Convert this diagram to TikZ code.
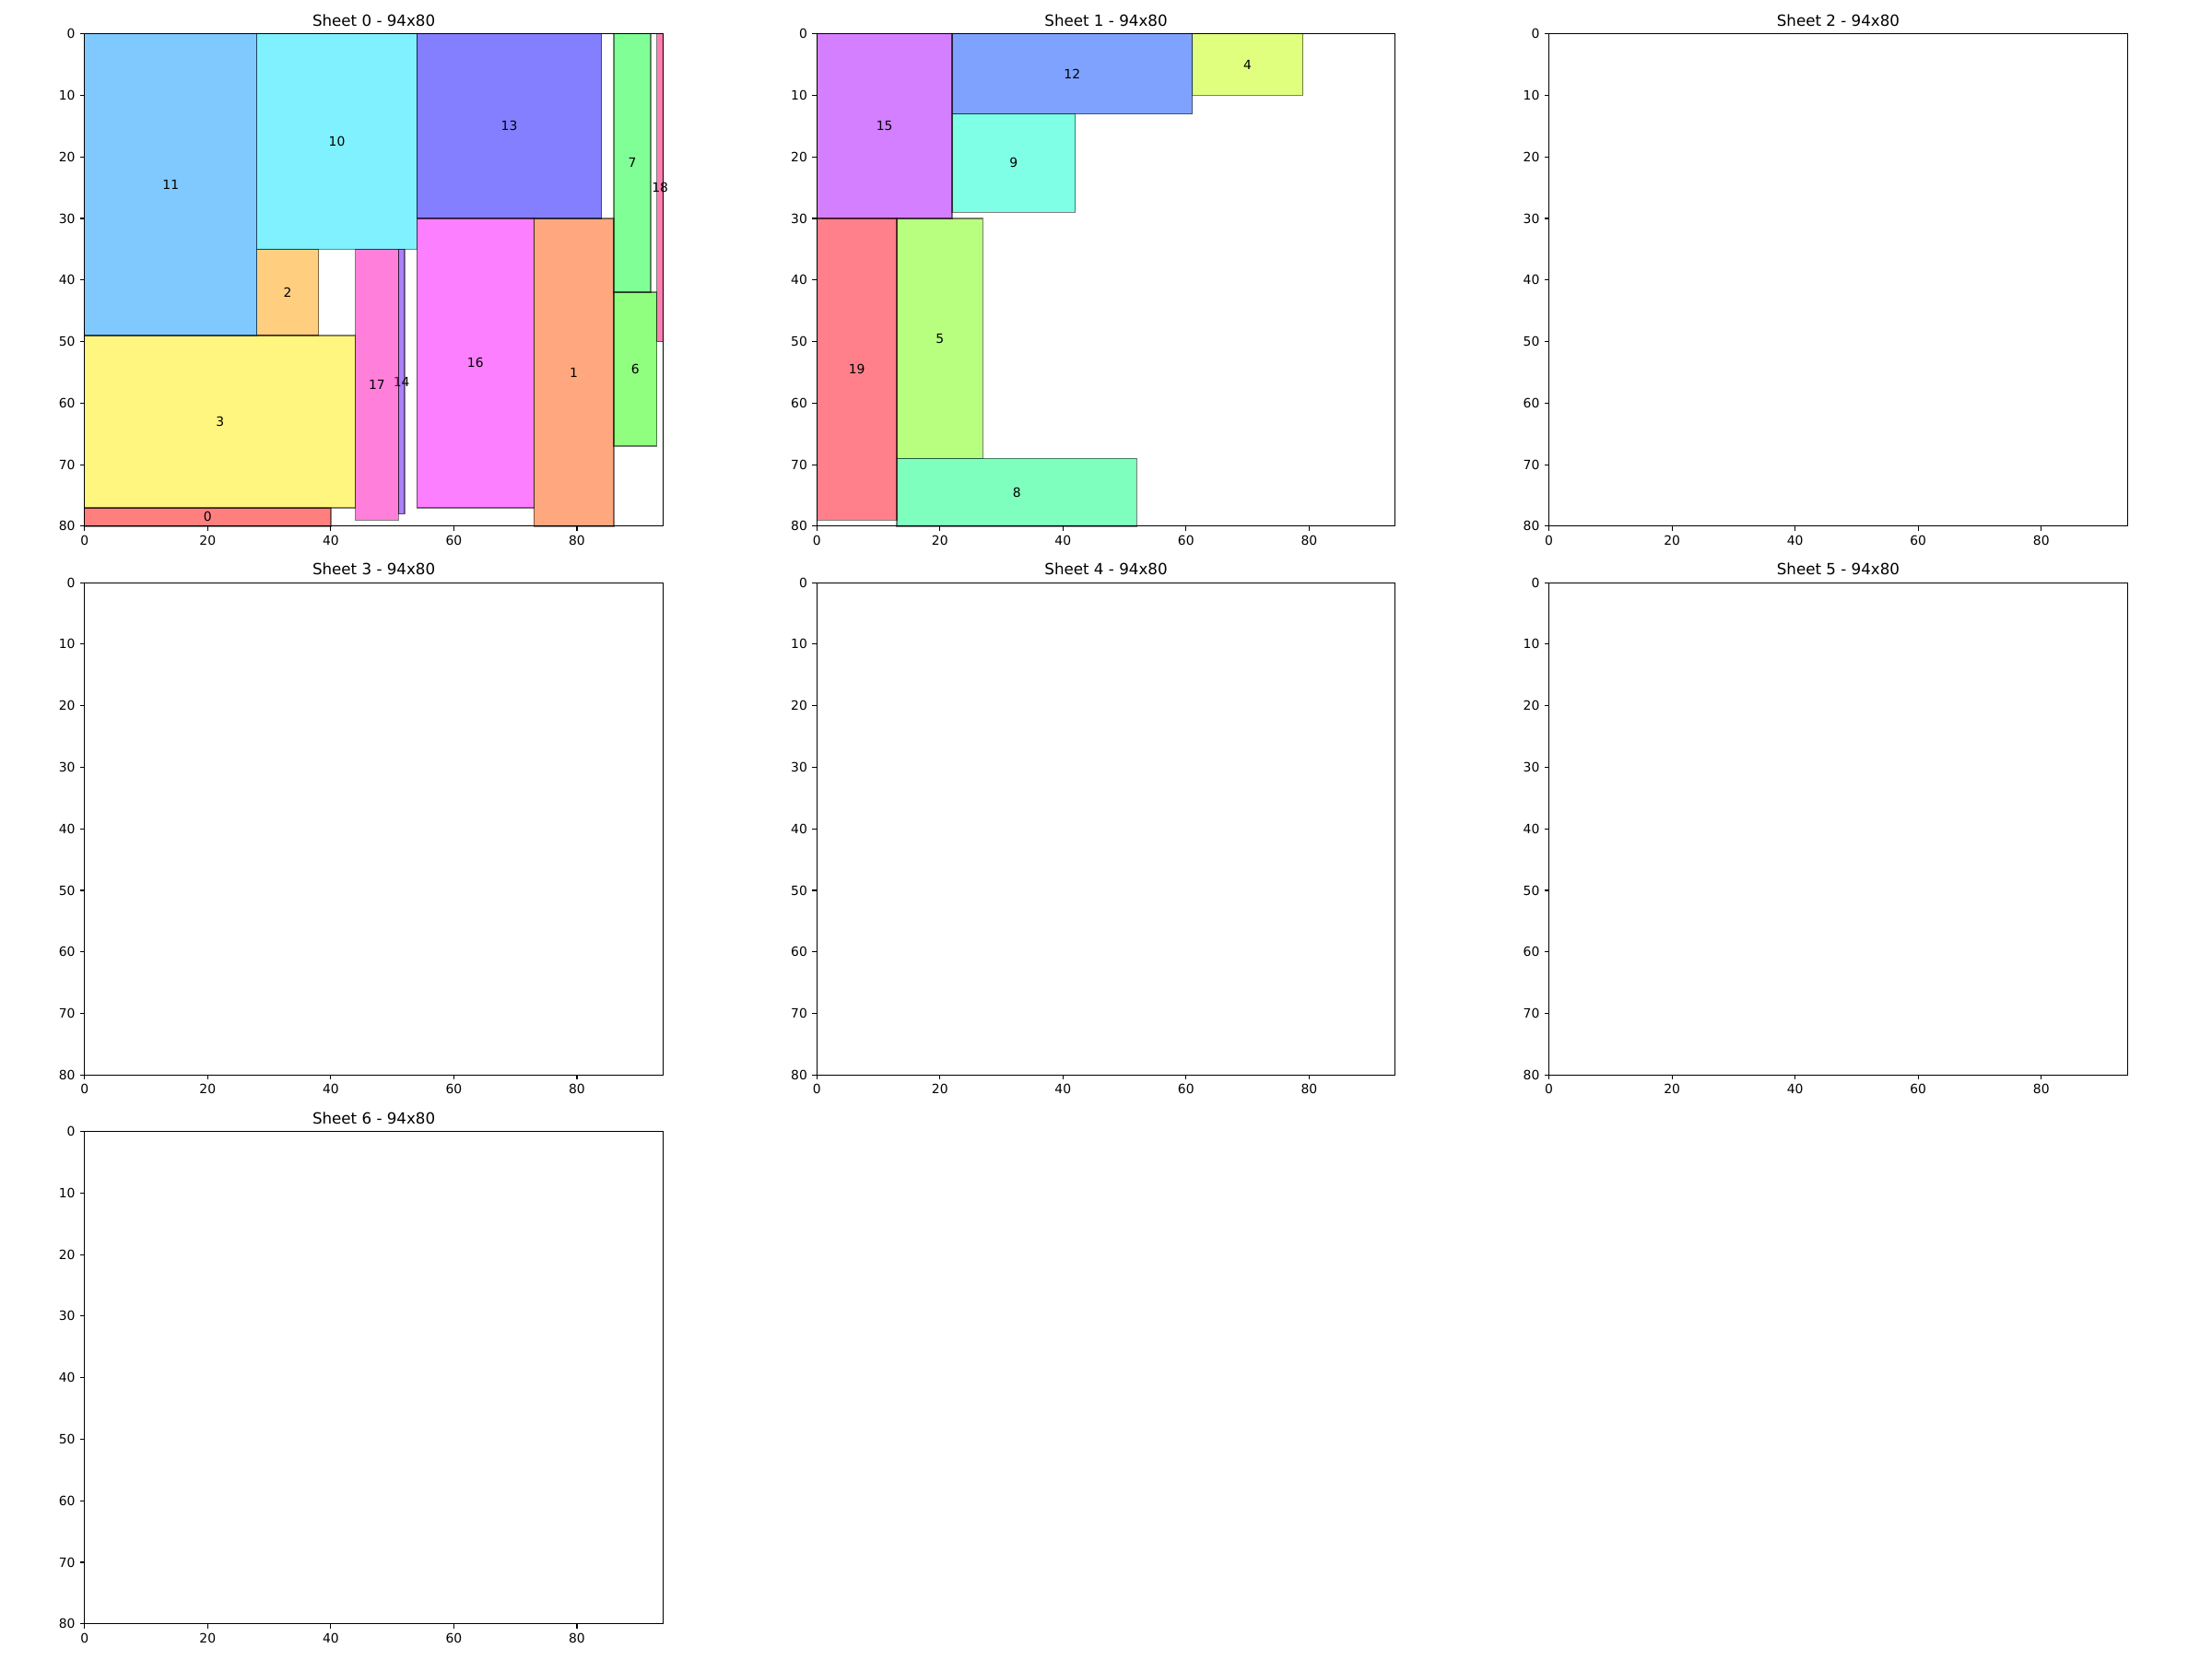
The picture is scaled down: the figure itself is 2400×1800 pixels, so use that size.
\documentclass[tikz,border=0pt]{standalone}
\usepackage{fontspec}
\setmainfont{DejaVu Sans}
\usetikzlibrary{calc}

% piece colours, drawn at half opacity
\definecolor{c0}{RGB}{255,0,0}
\definecolor{c1}{RGB}{255,79,0}
\definecolor{c2}{RGB}{255,159,0}
\definecolor{c3}{RGB}{255,238,0}
\definecolor{c4}{RGB}{193,255,0}
\definecolor{c5}{RGB}{114,255,0}
\definecolor{c6}{RGB}{34,255,0}
\definecolor{c7}{RGB}{0,255,45}
\definecolor{c8}{RGB}{0,255,124}
\definecolor{c9}{RGB}{0,255,203}
\definecolor{c10}{RGB}{0,227,255}
\definecolor{c11}{RGB}{0,148,255}
\definecolor{c12}{RGB}{0,69,255}
\definecolor{c13}{RGB}{10,0,255}
\definecolor{c14}{RGB}{90,0,255}
\definecolor{c15}{RGB}{169,0,255}
\definecolor{c16}{RGB}{247,0,254}
\definecolor{c17}{RGB}{255,0,182}
\definecolor{c18}{RGB}{255,0,103}
\definecolor{c19}{RGB}{255,0,24}

\tikzset{
  piece/.style={fill=#1, draw=black, opacity=0.5, line width=1.39pt},
  lbl/.style={text opacity=1, inner sep=0pt, font=\fontsize{13.9}{16}\selectfont},
  frame/.style={line width=1.11pt},
  tick/.style={line width=1.11pt},
  ticklbl/.style={inner sep=0pt, font=\fontsize{13.9}{16}\selectfont},
  ttl/.style={anchor=base, inner sep=0pt, font=\fontsize{16.7}{20}\selectfont}
}

\begin{document}
\begin{tikzpicture}[x=1pt, y=-1pt]
    \useasboundingbox (0,0) rectangle (2400,1800);
    % sheet 0
    \begin{scope}[shift={(91.8pt,-36.7pt)}, x=6.677pt, y=-6.677pt]
	\draw[piece=c0] (0,77) rectangle node[lbl] (p0) {0} (40,80);
	\draw[piece=c1] (73,30) rectangle node[lbl] (p1) {1} (86,80);
	\draw[piece=c2] (28,35) rectangle node[lbl] (p2) {2} (38,49);
	\draw[piece=c3] (0,49) rectangle node[lbl] (p3) {3} (44,77);
	\draw[piece=c6] (86,42) rectangle node[lbl] (p6) {6} (93,67);
	\draw[piece=c7] (86,0) rectangle node[lbl] (p7) {7} (92,42);
	\draw[piece=c10] (28,0) rectangle node[lbl] (p10) {10} (54,35);
	\draw[piece=c11] (0,0) rectangle node[lbl] (p11) {11} (28,49);
	\draw[piece=c13] (54,0) rectangle node[lbl] (p13) {13} (84,30);
	\draw[piece=c14] (51,35) rectangle node[lbl] (p14) {14} (52,78);
	\draw[piece=c16] (54,30) rectangle node[lbl] (p16) {16} (73,77);
	\draw[piece=c17] (44,35) rectangle node[lbl] (p17) {17} (51,79);
	\draw[piece=c18] (93,0) rectangle node[lbl] (p18) {18} (94,50);
    \end{scope}
    % sheet 1
    \begin{scope}[shift={(886.2pt,-36.7pt)}, x=6.677pt, y=-6.677pt]
	\draw[piece=c4] (61,0) rectangle node[lbl] (p4) {4} (79,10);
	\draw[piece=c5] (13,30) rectangle node[lbl] (p5) {5} (27,69);
	\draw[piece=c8] (13,69) rectangle node[lbl] (p8) {8} (52,80);
	\draw[piece=c9] (22,13) rectangle node[lbl] (p9) {9} (42,29);
	\draw[piece=c12] (22,0) rectangle node[lbl] (p12) {12} (61,13);
	\draw[piece=c15] (0,0) rectangle node[lbl] (p15) {15} (22,30);
	\draw[piece=c19] (0,30) rectangle node[lbl] (p19) {19} (13,79);
    \end{scope}
    % axes of every sheet
    \foreach \s/\ox/\oy in {0/91.8/36.7, 1/886.2/36.7, 2/1680.6/36.7,
	3/91.8/632.1, 4/886.2/632.1, 5/1680.6/632.1, 6/91.8/1227.6} {
	\begin{scope}[shift={(\ox pt,-\oy pt)}, x=6.677pt, y=-6.677pt]
	    \draw[frame] (0,0) rectangle (94,80);
	    \foreach \t in {0,20,...,80}
		\draw[tick] (\t,80) -- ++(0pt,-4.86pt)
		    node[ticklbl, anchor=north, yshift=-4.86pt] (x\s-\t) {\t};
	    \foreach \t in {0,10,...,80}
		\draw[tick] (0,\t) -- ++(-4.86pt,0pt)
		    node[ticklbl, anchor=east, xshift=-4.86pt] (y\s-\t) {\t};
	    \node[ttl, yshift=8.3pt] (t\s) at (47,0) {Sheet \s{} - 94x80};
	\end{scope}
    }
\end{tikzpicture}
\end{document}
